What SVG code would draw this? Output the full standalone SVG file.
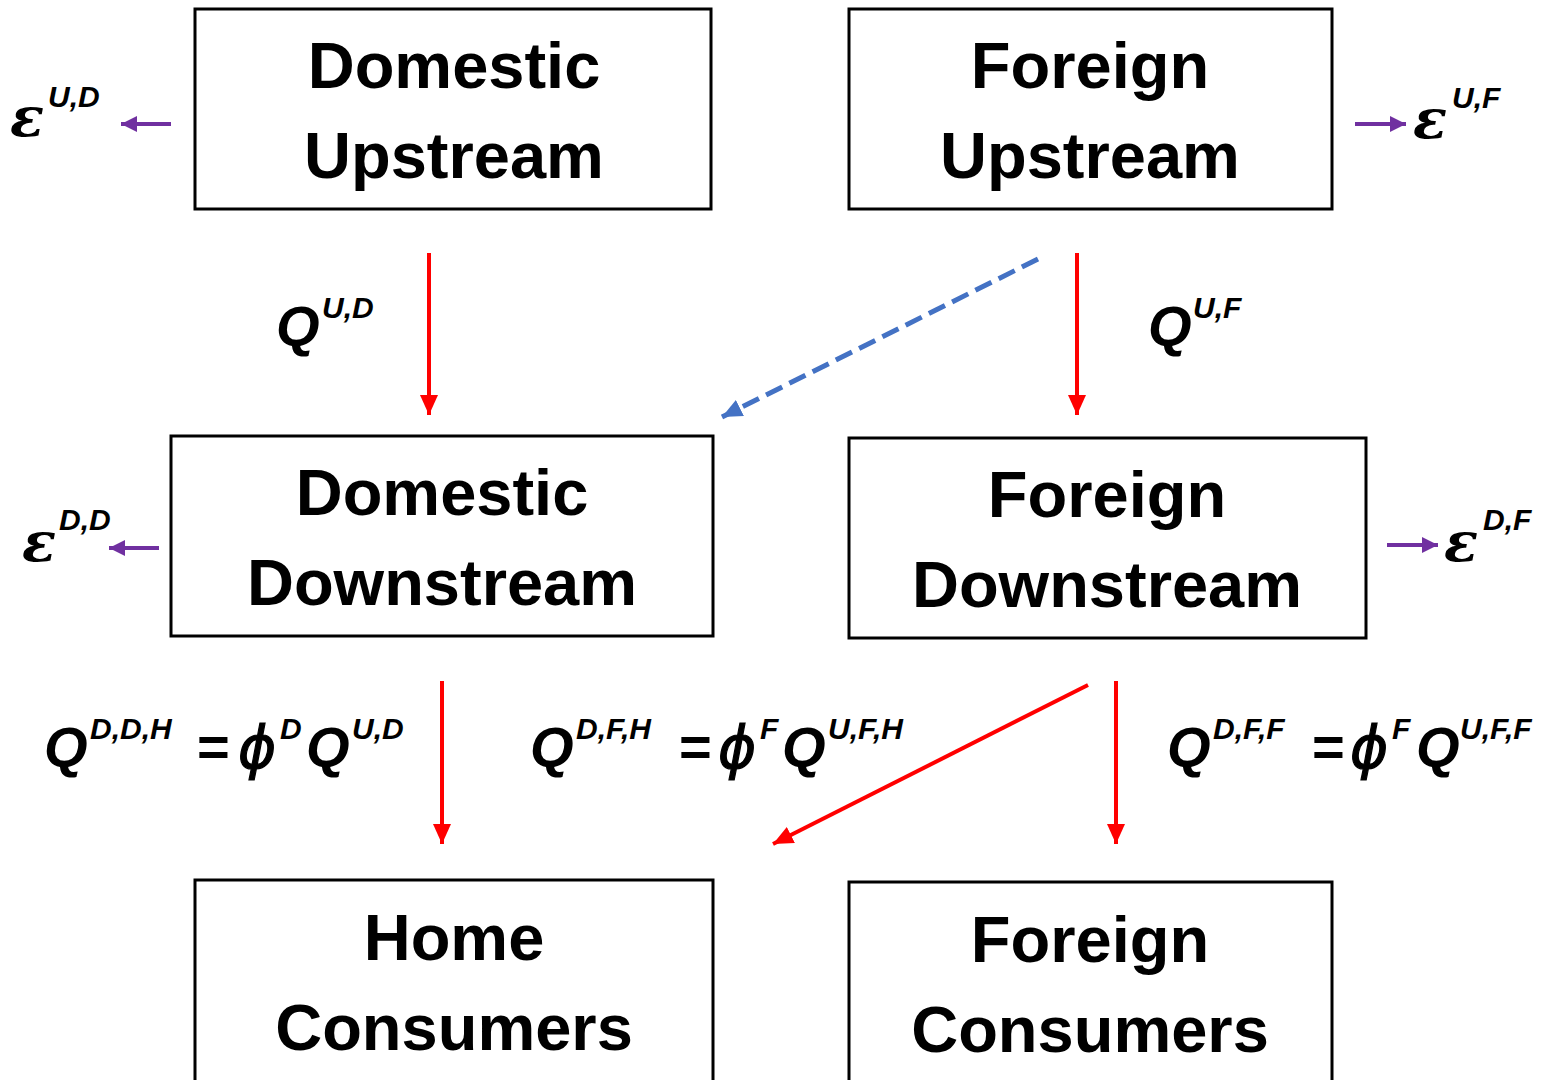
<svg xmlns="http://www.w3.org/2000/svg" width="1547" height="1080" viewBox="0 0 1547 1080">
<defs>
<style>
.box{fill:#fff;stroke:#000;stroke-width:3}
.t{font-family:"Liberation Sans",Arial,sans-serif;font-weight:bold;font-size:65px;text-anchor:middle;fill:#000}
.q{font-family:"Liberation Sans",Arial,sans-serif;font-weight:bold;font-style:italic;font-size:56px;fill:#000}
.s{font-family:"Liberation Sans",Arial,sans-serif;font-weight:bold;font-style:italic;font-size:30px;fill:#000}
.g{font-family:"DejaVu Serif",serif;font-weight:bold;font-style:italic;font-size:56px;fill:#000}
.p{font-family:"DejaVu Sans",sans-serif;font-style:italic;font-size:58px;fill:#000;stroke:#000;stroke-width:1.2}
.red{stroke:#ff0000;stroke-width:4;fill:none;marker-end:url(#ah-red)}
.pur{stroke:#7030a0;stroke-width:4;fill:none;marker-end:url(#ah-pur)}
.blue{stroke:#4472c4;stroke-width:5;fill:none;stroke-dasharray:18 8;marker-end:url(#ah-blue)}
</style>
<marker id="ah-red" markerUnits="userSpaceOnUse" markerWidth="22" markerHeight="20" refX="20" refY="9" orient="auto"><path d="M0,0 L20,9 L0,18 Z" fill="#ff0000"/></marker>
<marker id="ah-pur" markerUnits="userSpaceOnUse" markerWidth="20" markerHeight="18" refX="16" refY="8" orient="auto"><path d="M0,0 L16,8 L0,16 Z" fill="#7030a0"/></marker>
<marker id="ah-blue" markerUnits="userSpaceOnUse" markerWidth="22" markerHeight="20" refX="20" refY="9" orient="auto"><path d="M0,0 L20,9 L0,18 Z" fill="#4472c4"/></marker>
</defs>
<rect width="1547" height="1080" fill="#fff"/>

<g id="connectors">
<line class="red" x1="429" y1="253" x2="429" y2="415"/>
<line class="red" x1="1077" y1="253" x2="1077" y2="415"/>
<line class="blue" x1="1038" y1="259" x2="722" y2="417"/>
<line class="red" x1="442" y1="681" x2="442" y2="844"/>
<line class="red" x1="1088" y1="685" x2="773" y2="844"/>
<line class="red" x1="1116" y1="681" x2="1116" y2="844"/>
<line class="pur" x1="171" y1="124" x2="121" y2="124"/>
<line class="pur" x1="1355" y1="124" x2="1406" y2="124"/>
<line class="pur" x1="159" y1="548" x2="109" y2="548"/>
<line class="pur" x1="1387" y1="545" x2="1438" y2="545"/>
</g>

<g id="domestic-upstream">
<rect class="box" x="195" y="9" width="516" height="200"/>
<text class="t" x="454" y="88">Domestic</text>
<text class="t" x="454" y="178">Upstream</text>
</g>
<g id="foreign-upstream">
<rect class="box" x="849" y="9" width="483" height="200"/>
<text class="t" x="1090" y="88">Foreign</text>
<text class="t" x="1090" y="178">Upstream</text>
</g>
<g id="domestic-downstream">
<rect class="box" x="171" y="436" width="542" height="200"/>
<text class="t" x="442" y="515">Domestic</text>
<text class="t" x="442" y="605">Downstream</text>
</g>
<g id="foreign-downstream">
<rect class="box" x="849" y="438" width="517" height="200"/>
<text class="t" x="1107" y="517">Foreign</text>
<text class="t" x="1107" y="607">Downstream</text>
</g>
<g id="home-consumers">
<rect class="box" x="195" y="880" width="518" height="210"/>
<text class="t" x="454" y="960">Home</text>
<text class="t" x="454" y="1050">Consumers</text>
</g>
<g id="foreign-consumers">
<rect class="box" x="849" y="882" width="483" height="210"/>
<text class="t" x="1090" y="962">Foreign</text>
<text class="t" x="1090" y="1052">Consumers</text>
</g>

<g id="labels">
<text class="g" x="10" y="136">ε</text><text class="s" x="48" y="107">U,D</text>
<text class="g" x="1413" y="138">ε</text><text class="s" x="1452" y="108">U,F</text>
<text class="g" x="22" y="561">ε</text><text class="s" x="59" y="530">D,D</text>
<text class="g" x="1444" y="561">ε</text><text class="s" x="1483" y="530">D,F</text>

<text class="q" x="276" y="345">Q</text><text class="s" x="322" y="318">U,D</text>
<text class="q" x="1148" y="345">Q</text><text class="s" x="1193" y="318">U,F</text>

<text class="q" x="44" y="766">Q</text><text class="s" x="90" y="739">D,D,H</text>
<text class="q" x="196" y="766">=</text>
<text class="p" x="238" y="768">ϕ</text><text class="s" x="280" y="739">D</text>
<text class="q" x="306" y="766">Q</text><text class="s" x="352" y="739">U,D</text>

<text class="q" x="530" y="766">Q</text><text class="s" x="576" y="739">D,F,H</text>
<text class="q" x="678" y="766">=</text>
<text class="p" x="718" y="768">ϕ</text><text class="s" x="760" y="739">F</text>
<text class="q" x="782" y="766">Q</text><text class="s" x="828" y="739">U,F,H</text>

<text class="q" x="1167" y="766">Q</text><text class="s" x="1213" y="739">D,F,F</text>
<text class="q" x="1311" y="766">=</text>
<text class="p" x="1350" y="768">ϕ</text><text class="s" x="1392" y="739">F</text>
<text class="q" x="1416" y="766">Q</text><text class="s" x="1460" y="739">U,F,F</text>
</g>
</svg>
